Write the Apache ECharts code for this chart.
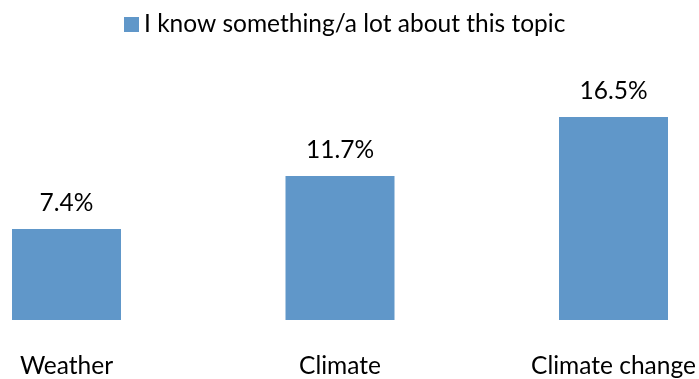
<!DOCTYPE html>
<html>
<head>
<meta charset="utf-8">
<script src="https://cdn.jsdelivr.net/npm/echarts@6/dist/echarts.min.js"></script>
<style>
html,body{margin:0;padding:0;background:#fff;}
#chart{width:699px;height:379px;}
</style>
</head>
<body>
<div id="chart"></div>
<script>
const categories = ["Weather", "Climate", "Climate change"];
const seriesName = "I know something/a lot about this topic";
const values = [7.4, 11.7, 16.5];

const chart = echarts.init(document.getElementById('chart'), null, {renderer: 'canvas'});
chart.setOption({
  animation: false,
  backgroundColor: '#ffffff',
  textStyle: {fontFamily: 'Lato'},
  legend: {
    data: [seriesName],
    left: 119,
    top: 7,
    itemWidth: 15,
    itemHeight: 15,
    itemGap: 10,
    icon: 'rect',
    textStyle: {fontSize: 24.5, color: '#000', fontFamily: 'Lato'}
  },
  grid: {left: 66.5, width: 547, top: 74, height: 246},
  xAxis: {
    type: 'category',
    data: categories,
    boundaryGap: false,
    axisLine: {show: false},
    axisTick: {show: false},
    axisLabel: {fontSize: 24.5, color: '#000', margin: 34, fontFamily: 'Lato', interval: 0}
  },
  yAxis: {
    type: 'value',
    min: 0,
    max: 20,
    show: false,
    splitLine: {show: false}
  },
  series: [{
    name: seriesName,
    type: 'bar',
    data: values,
    barWidth: 109,
    clip: false,
    itemStyle: {color: '#6097C9'},
    label: {
      show: true,
      position: 'top',
      distance: 13,
      fontSize: 24.5,
      color: '#000',
      fontFamily: 'Lato',
      formatter: p => p.value.toFixed(1) + '%'
    }
  }]
});
</script>
</body>
</html>
